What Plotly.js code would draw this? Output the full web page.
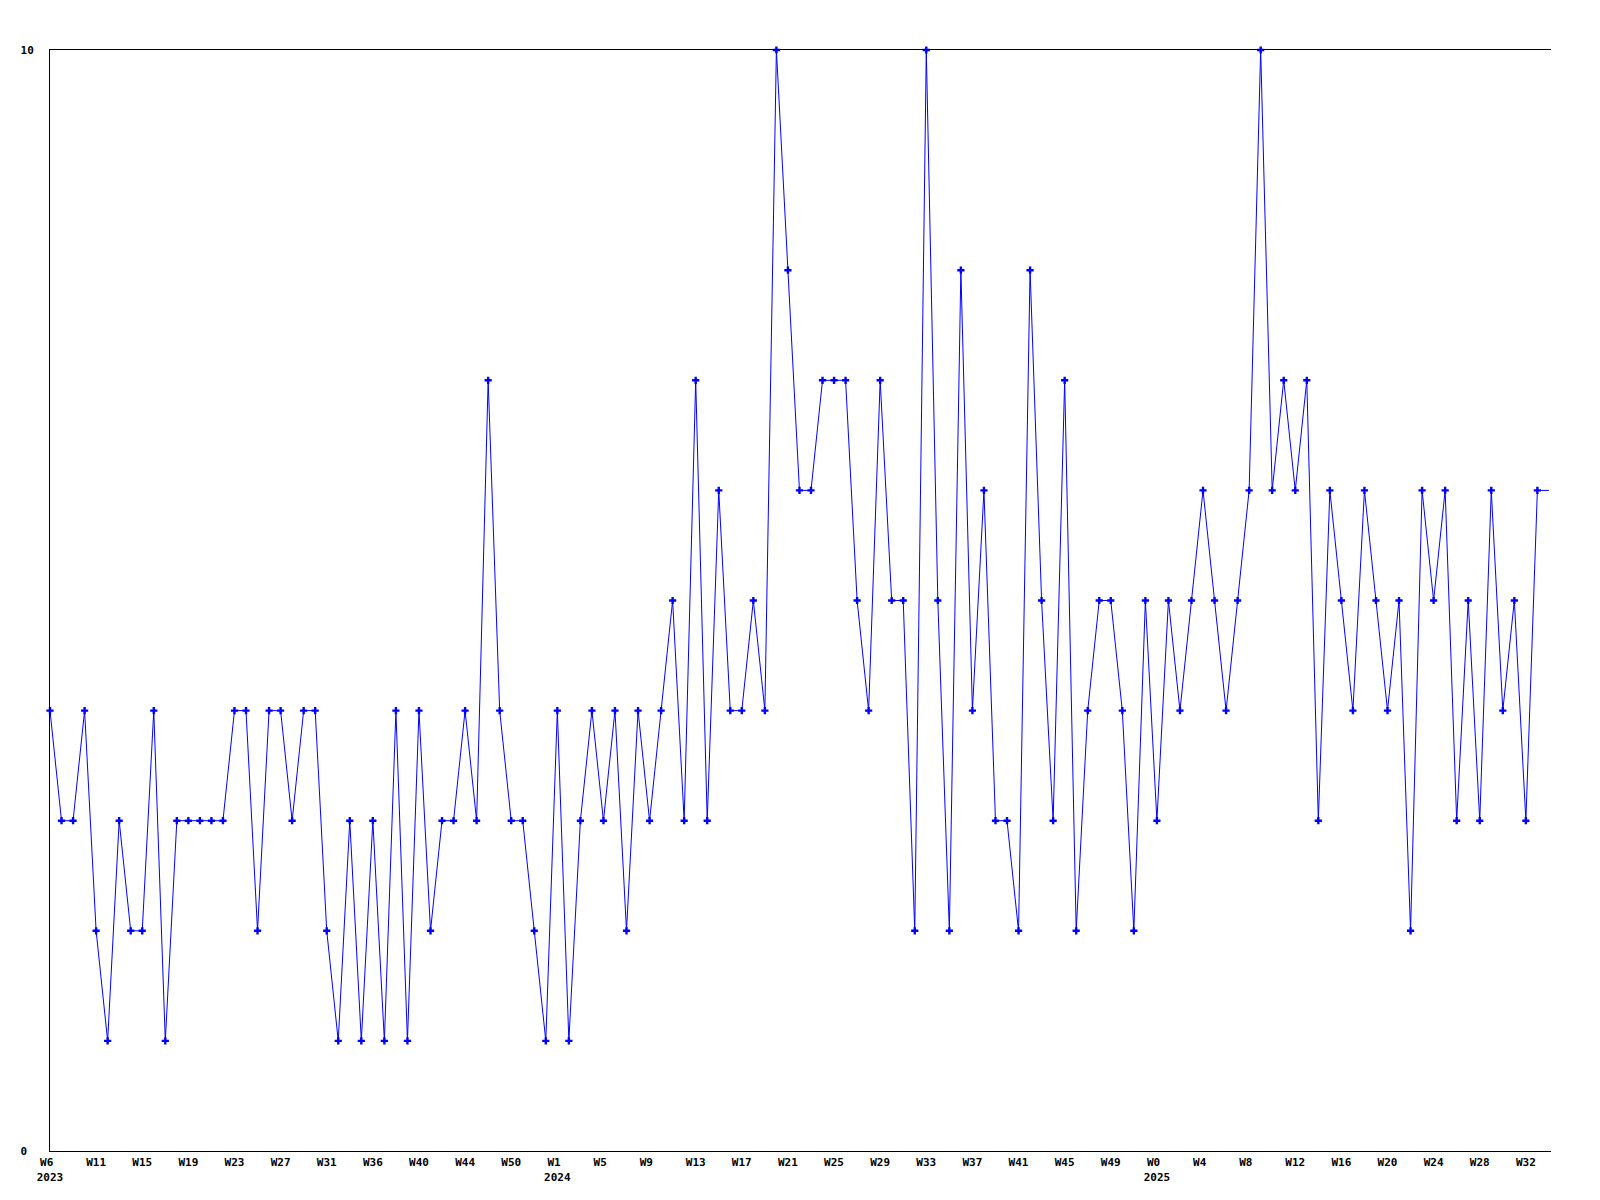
<!DOCTYPE html>
<html>
<head>
<meta charset="utf-8">
<script src="https://cdn.plot.ly/plotly-3.0.1.min.js"></script>
<style>
  html, body { margin: 0; padding: 0; background: #ffffff; }
  #chart { width: 1600px; height: 1200px; }
</style>
</head>
<body>
<div id="chart"></div>
<script>
// Weekly values, from 2023 W6 onward (one value per week).
// The final value is the current week, whose line runs off the right edge.
const weeklyValues = [
  4, 3, 3, 4, 2, 1, 3, 2, 2, 4, 1, 3, 3, 3, 3, 3, 4, 4, 2, 4,
  4, 3, 4, 4, 2, 1, 3, 1, 3, 1, 4, 1, 4, 2, 3, 3, 4, 3, 7, 4,
  3, 3, 2, 1, 4, 1, 3, 4, 3, 4, 2, 4, 3, 4, 5, 3, 7, 3, 6, 4,
  4, 5, 4, 10, 8, 6, 6, 7, 7, 7, 5, 4, 7, 5, 5, 2, 10, 5, 2, 8,
  4, 6, 3, 3, 2, 8, 5, 3, 7, 2, 4, 5, 5, 4, 2, 5, 3, 5, 4, 5,
  6, 5, 4, 5, 6, 10, 6, 7, 6, 7, 3, 6, 5, 4, 6, 5, 4, 5, 2, 6,
  5, 6, 3, 5, 3, 6, 4, 5, 3, 6, 6
];

// X axis labels: one every 4 weeks.
const weekTickLabels = [
  'W6', 'W11', 'W15', 'W19', 'W23', 'W27', 'W31', 'W36', 'W40', 'W44', 'W50',
  'W1', 'W5', 'W9', 'W13', 'W17', 'W21', 'W25', 'W29', 'W33', 'W37', 'W41', 'W45', 'W49',
  'W0', 'W4', 'W8', 'W12', 'W16', 'W20', 'W24', 'W28', 'W32'
];
const yearTickLabels = [
  '2023', '', '', '', '', '', '', '', '', '', '',
  '2024', '', '', '', '', '', '', '', '', '', '', '', '',
  '2025', '', '', '', '', '', '', '', ''
];
const weeksPerTick = 4;

// Y axis labels
const yTickValues = [0, 10];
const yTickLabels = ['0', '10'];

// ---- build ----
const NBSP = '\u00a0';
const xIdx = weeklyValues.map((_, i) => i);
const shownCount = weeklyValues.length - 1; // last point lies beyond the right edge

const tickvals = weekTickLabels.map((_, i) => i * weeksPerTick);
const ticktext = weekTickLabels.map((w, i) => {
  let wl = w;
  while (wl.length < 3) wl += NBSP;
  return yearTickLabels[i] ? wl + '<br>' + yearTickLabels[i] : wl;
});
const yTickText = yTickLabels.map(t => { let s = t; while (s.length < 2) s += NBSP; return s; });

const blue = '#0000ff';
const tickFont = { family: 'DejaVu Sans Mono, monospace', size: 11, color: '#000000', weight: 'bold' };

const traces = [
  {
    x: xIdx,
    y: weeklyValues,
    type: 'scatter',
    mode: 'lines',
    line: { color: blue, width: 1 },
    hoverinfo: 'skip',
    showlegend: false
  },
  {
    x: xIdx.slice(0, shownCount),
    y: weeklyValues.slice(0, shownCount),
    type: 'scatter',
    mode: 'markers',
    marker: { color: blue, symbol: 'cross', size: 6, line: { width: 0 } },
    cliponaxis: false,
    showlegend: false
  }
];

const layout = {
  width: 1600,
  height: 1200,
  margin: { l: 50, r: 49, t: 50, b: 49, pad: 0 },
  paper_bgcolor: '#ffffff',
  plot_bgcolor: '#ffffff',
  showlegend: false,
  xaxis: {
    range: [0, shownCount - 1 + 1.18],
    showgrid: false,
    zeroline: false,
    showline: true,
    mirror: true,
    linecolor: '#000000',
    linewidth: 1,
    ticks: '',
    tickmode: 'array',
    tickvals: tickvals,
    ticktext: ticktext,
    tickfont: tickFont,
    ticklabelstandoff: 1,
    fixedrange: true
  },
  yaxis: {
    range: [0, 10],
    showgrid: false,
    zeroline: false,
    showline: true,
    mirror: false,
    linecolor: '#000000',
    linewidth: 1,
    ticks: '',
    tickmode: 'array',
    tickvals: yTickValues,
    ticktext: yTickText,
    tickfont: tickFont,
    ticklabelstandoff: 13,
    fixedrange: true
  }
};

Plotly.newPlot('chart', traces, layout, { displayModeBar: false, staticPlot: true });
</script>
</body>
</html>
